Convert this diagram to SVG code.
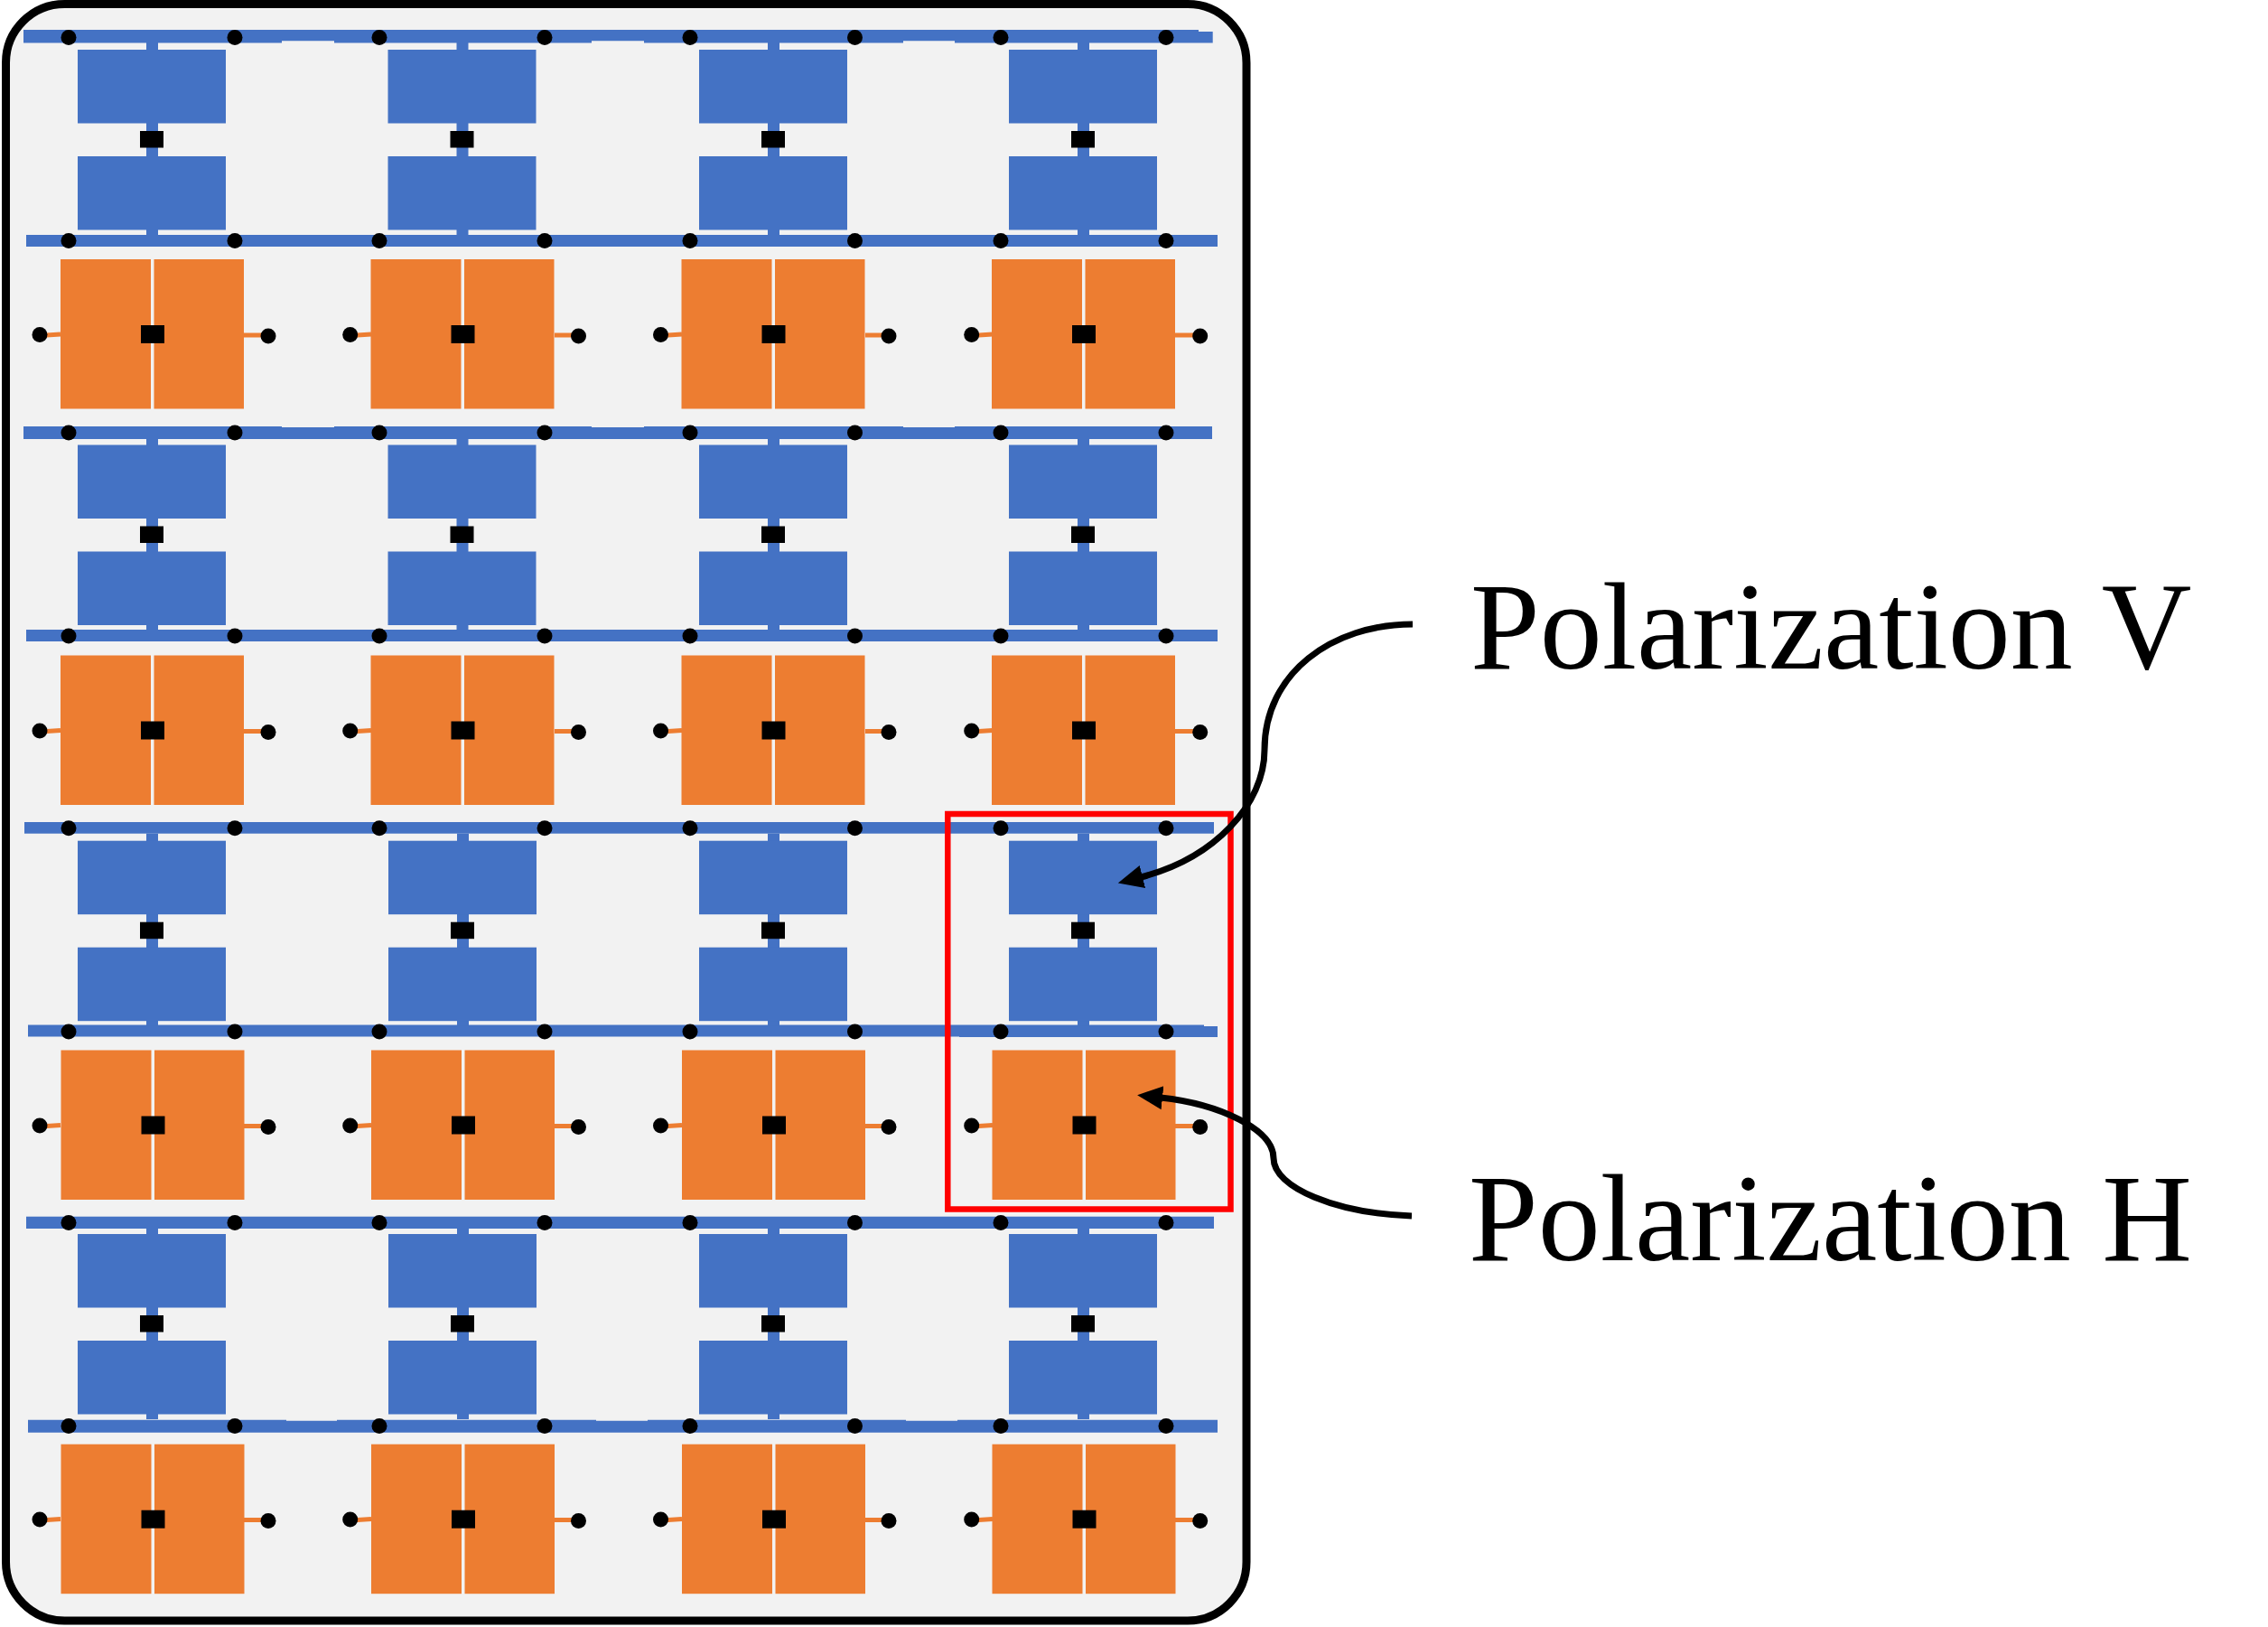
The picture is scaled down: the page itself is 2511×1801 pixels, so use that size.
<svg xmlns="http://www.w3.org/2000/svg" xmlns:xlink="http://www.w3.org/1999/xlink" width="2511" height="1801" viewBox="0 0 2511 1801">
<style>
.b{fill:#4472c4}.o{fill:#ed7d31}.k{fill:#000}
.stub{stroke:#ed7d31;stroke-width:5;fill:none}
.arrow{stroke:#000;stroke-width:7;fill:none;marker-end:url(#head)}
.label{font-family:"Liberation Serif","Times New Roman",serif;font-size:138px;fill:#000}
</style>
<defs>
<marker id="head" markerUnits="userSpaceOnUse" markerWidth="30" markerHeight="30" viewBox="0 0 30 30" refX="2" refY="14" orient="auto"><path d="M0 1L28 14L0 27z" fill="#000"/></marker>
<g id="v"><rect class="b" x="162" y="47" width="13" height="213"/><rect class="b" x="86" y="55" width="164" height="81.5"/><rect class="b" x="86" y="173" width="164" height="81.5"/><rect class="k" x="155" y="145" width="26" height="18.5"/></g>
<g id="h"><rect class="o" x="67" y="287" width="100" height="165.5"/><rect class="o" x="170.5" y="287" width="99.5" height="165.5"/><rect class="k" x="156" y="360" width="26" height="20"/></g>
<g id="bd"><circle cx="76" cy="0" r="8.5"/><circle cx="260" cy="0" r="8.5"/><circle cx="420" cy="0" r="8.5"/><circle cx="603" cy="0" r="8.5"/><circle cx="764" cy="0" r="8.5"/><circle cx="946.5" cy="0" r="8.5"/><circle cx="1108" cy="0" r="8.5"/><circle cx="1291" cy="0" r="8.5"/></g>
<g id="od"><circle cx="44" cy="370.5" r="8.5"/><circle cx="297" cy="372" r="8.5"/><circle cx="387.7" cy="370.5" r="8.5"/><circle cx="640.5" cy="372" r="8.5"/><circle cx="731.5" cy="370.5" r="8.5"/><circle cx="984" cy="372" r="8.5"/><circle cx="1075.7" cy="370.5" r="8.5"/><circle cx="1328.7" cy="372" r="8.5"/></g>
<g id="os"><path class="stub" d="M44 371.5L67 370M270 371H297M388 371.5L411 370M614 371H640M732 371.5L755 370M958 371H983M1076 371.5L1099 370M1301 371H1328"/></g>
</defs>
<rect id="panel" x="6.5" y="4.5" width="1373.5" height="1789.5" rx="65" ry="65" fill="#f2f2f2" stroke="#000" stroke-width="9"/>
<g id="connectors">
<path class="b" d="M26 33H1327V35H1342.7V47.5H1057V45.3H1000V47.5H713V45.3H655V47.5H370V45.3H312V47.5H26z"/>
<rect class="b" x="29" y="260" width="1319" height="13"/>
<path class="b" d="M26 472H312V473H370V472H655V473H713V472H1000V473H1057V472H1342V486H26z"/>
<rect class="b" x="29" y="697" width="1319" height="13"/>
<rect class="b" x="27" y="910" width="1317" height="12.7"/>
<path class="b" d="M31 1134.5H1333V1136H1348V1148H1062V1147.5H31z"/>
<rect class="b" x="29" y="1346.7" width="1315" height="13.3"/>
<path class="b" d="M31 1571.7H317V1572.7H373V1571.7H660V1572.7H717V1571.7H1003V1572.7H1060V1571.7H1348V1585.7H31z"/>
<use href="#os"/><use href="#os" y="438.5"/><use href="#os" y="875.5"/><use href="#os" y="1311.5"/>
</g>
<g id="v-r1-c1"><use href="#v"/></g><g id="v-r1-c2"><use href="#v" x="343.5"/></g><g id="v-r1-c3"><use href="#v" x="688"/></g><g id="v-r1-c4"><use href="#v" x="1031"/></g>
<g id="v-r2-c1"><use href="#v" y="437.5"/></g><g id="v-r2-c2"><use href="#v" x="343.5" y="437.5"/></g><g id="v-r2-c3"><use href="#v" x="688" y="437.5"/></g><g id="v-r2-c4"><use href="#v" x="1031" y="437.5"/></g>
<g id="v-r3-c1"><use href="#v" y="875.7"/></g><g id="v-r3-c2"><use href="#v" x="344" y="875.7"/></g><g id="v-r3-c3"><use href="#v" x="688" y="875.7"/></g><g id="v-r3-c4"><use href="#v" x="1031" y="875.7"/></g>
<g id="v-r4-c1"><use href="#v" y="1311"/></g><g id="v-r4-c2"><use href="#v" x="344" y="1311"/></g><g id="v-r4-c3"><use href="#v" x="688" y="1311"/></g><g id="v-r4-c4"><use href="#v" x="1031" y="1311"/></g>
<g id="h-r1-c1"><use href="#h"/></g><g id="h-r1-c2"><use href="#h" x="343.5"/></g><g id="h-r1-c3"><use href="#h" x="687.5"/></g><g id="h-r1-c4"><use href="#h" x="1031"/></g>
<g id="h-r2-c1"><use href="#h" y="438.5"/></g><g id="h-r2-c2"><use href="#h" x="343.5" y="438.5"/></g><g id="h-r2-c3"><use href="#h" x="687.5" y="438.5"/></g><g id="h-r2-c4"><use href="#h" x="1031" y="438.5"/></g>
<g id="h-r3-c1"><use href="#h" x="0.5" y="875.5"/></g><g id="h-r3-c2"><use href="#h" x="344" y="875.5"/></g><g id="h-r3-c3"><use href="#h" x="688" y="875.5"/></g><g id="h-r3-c4"><use href="#h" x="1031.5" y="875.5"/></g>
<g id="h-r4-c1"><use href="#h" x="0.5" y="1311.7"/></g><g id="h-r4-c2"><use href="#h" x="344" y="1311.7"/></g><g id="h-r4-c3"><use href="#h" x="688" y="1311.7"/></g><g id="h-r4-c4"><use href="#h" x="1031.5" y="1311.7"/></g>
<g id="terminals">
<use href="#bd" y="41.5"/><use href="#bd" y="266.5"/><use href="#bd" y="479"/><use href="#bd" y="704"/><use href="#bd" y="916.7"/><use href="#bd" y="1142"/><use href="#bd" y="1353.5"/><use href="#bd" y="1578.5"/>
<use href="#od"/><use href="#od" y="438.5"/><use href="#od" y="875.5"/><use href="#od" y="1311.5"/>
</g>
<rect id="highlight" x="1049.3" y="901" width="313.2" height="437.5" fill="none" stroke="#ff0000" stroke-width="6.5"/>
<g id="arrows">
<path class="arrow" d="M1564 691C1475 691 1400 745 1400 830C1400 890 1345 950 1263 971"/>
<path class="arrow" d="M1563 1346C1480 1343 1410 1315 1410 1282C1410 1250 1350 1222 1285 1215"/>
</g>
<g id="label-v"><text class="label" x="1628" y="740">Polarization V</text></g>
<g id="label-h"><text class="label" x="1626" y="1395">Polarization H</text></g>
</svg>
